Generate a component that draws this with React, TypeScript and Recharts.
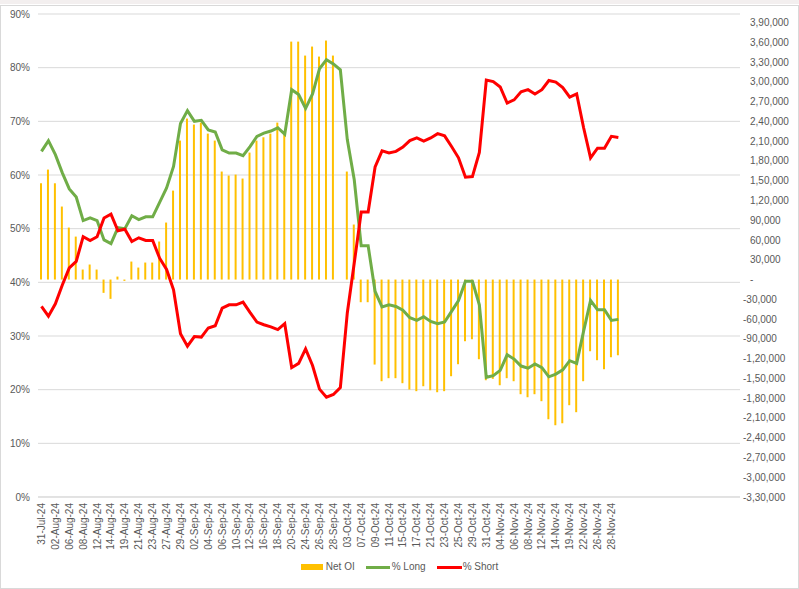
import React from 'react';
import { ComposedChart, Bar, Line, XAxis, YAxis, CartesianGrid, Legend } from 'recharts';

// trading days shown on the category axis (Excel shows every other one)
const dates: string[] = [
  '31-Jul-24',
  '01-Aug-24', '02-Aug-24', '05-Aug-24', '06-Aug-24', '07-Aug-24', '08-Aug-24', '09-Aug-24',
  '12-Aug-24', '13-Aug-24', '14-Aug-24', '16-Aug-24', '19-Aug-24', '20-Aug-24', '21-Aug-24',
  '22-Aug-24', '23-Aug-24', '26-Aug-24', '27-Aug-24', '28-Aug-24', '29-Aug-24', '30-Aug-24',
  '02-Sep-24', '03-Sep-24', '04-Sep-24', '05-Sep-24', '06-Sep-24', '09-Sep-24', '10-Sep-24',
  '11-Sep-24', '12-Sep-24', '13-Sep-24', '16-Sep-24', '17-Sep-24', '18-Sep-24', '19-Sep-24',
  '20-Sep-24', '23-Sep-24', '24-Sep-24', '25-Sep-24', '26-Sep-24', '27-Sep-24', '28-Sep-24',
  '30-Sep-24',
  '03-Oct-24', '04-Oct-24', '07-Oct-24', '08-Oct-24', '09-Oct-24', '10-Oct-24', '11-Oct-24',
  '14-Oct-24', '15-Oct-24', '16-Oct-24', '17-Oct-24', '18-Oct-24', '21-Oct-24', '22-Oct-24',
  '23-Oct-24', '24-Oct-24', '25-Oct-24', '28-Oct-24', '29-Oct-24', '30-Oct-24', '31-Oct-24',
  '01-Nov-24', '04-Nov-24', '05-Nov-24', '06-Nov-24', '07-Nov-24', '08-Nov-24', '11-Nov-24',
  '12-Nov-24', '13-Nov-24', '14-Nov-24', '18-Nov-24', '19-Nov-24', '21-Nov-24', '22-Nov-24',
  '25-Nov-24', '26-Nov-24', '27-Nov-24', '28-Nov-24', '29-Nov-24',
];

// empty rows left at the end of the source range
const BLANK_ROWS = 17;

const netOI: (number | null)[] = [
  146100, 166900, 146100, 110800, 78900, 65200, 15200, 22800, 15200, -20200,
  -29300, 4500, -2000, 27300, 18200, 25800, 25800, 57700, 86500, 135000,
  210900, 244300, 235200, 238200, 221500, 210900, 163900, 157800, 159300, 153300,
  192700, 210900, 215900, 221500, 238200, 220000, 361100, 361100, 339900, 353600,
  338400, 362700, 339900, null, 163900, 83500, -34400, -34400, -129000, -154300,
  -149700, -149700, -157300, -166900, -169400, -161900, -168000, -171000, -169400, -146700,
  -128500, -93600, -90600, -120900, -152800, -150700, -160400, -149700, -154300, -174000,
  -178600, -174000, -184600, -212000, -221100, -218100, -190700, -201300, -154300, -108800,
  -122400, -136100, -117900, -114900,
];

const longPct: number[] = [
  64.4, 66.4, 63.8, 60.4, 57.4, 55.9, 51.5, 52.0, 51.5, 47.9,
  47.2, 50.2, 50.0, 52.4, 51.7, 52.2, 52.2, 54.9, 57.6, 61.6,
  69.6, 72.0, 70.0, 70.2, 68.4, 68.0, 64.7, 64.1, 64.1, 63.6,
  65.3, 67.2, 67.8, 68.2, 68.8, 67.6, 75.9, 75.0, 72.4, 75.1,
  79.8, 81.5, 80.7, 79.6, 66.6, 59.1, 46.8, 46.8, 38.3, 35.4,
  35.8, 35.5, 34.8, 33.4, 32.9, 33.6, 32.7, 32.3, 32.6, 34.6,
  36.6, 40.2, 40.2, 35.8, 22.3, 22.6, 23.6, 26.5, 25.7, 24.4,
  24.0, 24.8, 24.1, 22.4, 22.9, 23.7, 25.4, 24.9, 30.9, 36.6,
  34.9, 34.9, 32.9, 33.1,
];

const shortPct: number[] = [
  35.5, 33.7, 36.0, 39.5, 42.7, 43.9, 48.5, 47.8, 48.5, 52.0,
  52.7, 49.6, 49.9, 47.6, 48.3, 47.8, 47.8, 44.5, 42.4, 38.6,
  30.4, 28.1, 29.9, 29.8, 31.5, 31.9, 35.2, 35.8, 35.8, 36.3,
  34.4, 32.6, 32.1, 31.7, 31.2, 32.3, 24.1, 24.9, 27.6, 24.5,
  20.1, 18.6, 19.1, 20.4, 34.3, 43.6, 53.1, 53.1, 61.5, 64.5,
  64.1, 64.4, 65.2, 66.4, 66.9, 66.3, 66.9, 67.7, 67.3, 65.3,
  63.2, 59.6, 59.7, 64.2, 77.7, 77.4, 76.4, 73.4, 74.0, 75.5,
  75.9, 75.1, 75.9, 77.6, 77.3, 76.3, 74.5, 75.1, 68.8, 63.2,
  65.0, 65.0, 67.2, 67.0,
];

const leftTicks = [0, 10, 20, 30, 40, 50, 60, 70, 80, 90];
const rightTicks = [
  -330000, -300000, -270000, -240000, -210000, -180000, -150000, -120000, -90000, -60000, -30000,
  0, 30000, 60000, 90000, 120000, 150000, 180000, 210000, 240000, 270000, 300000, 330000, 360000, 390000,
];

const GOLD = '#FFC000';
const GREEN = '#70AD47';
const RED = '#FF0000';
const TEXT = '#595959';
const GRID = '#D9D9D9';
const FONT = '"Liberation Sans", Arial, sans-serif';

const data = [
  ...dates.map((d, i) => ({ date: d, netOI: netOI[i], long: longPct[i], short: shortPct[i] })),
  ...Array.from({ length: BLANK_ROWS }, () => ({ date: '', netOI: null, long: null, short: null })),
];

// Indian digit grouping, zero shown as a dash
const fmtIN = (v: number) => {
  if (v === 0) return '-';
  const s = String(Math.abs(v));
  const last3 = s.slice(-3);
  let rest = s.slice(0, -3);
  const parts: string[] = [];
  while (rest.length > 2) {
    parts.unshift(rest.slice(-2));
    rest = rest.slice(0, -2);
  }
  if (rest) parts.unshift(rest);
  const out = parts.length ? parts.join(',') + ',' + last3 : last3;
  return (v < 0 ? '-' : '') + out;
};

const DateTick = (props: any) => {
  const { x, y, payload } = props;
  if (!payload.value) return null;
  return (
    <g transform={`translate(${x},${y})`}>
      <text transform="rotate(-90)" textAnchor="end" dy={3.5} fontSize={10} fontFamily={FONT} fill={TEXT}>
        {payload.value}
      </text>
    </g>
  );
};

const RightTick = (props: any) => {
  const { x, y, payload } = props;
  return (
    <text x={x + (payload.value < 0 ? 0 : 7)} y={y} dy={3.5} textAnchor="start" fontSize={10} fontFamily={FONT} fill={TEXT}>
      {fmtIN(payload.value)}
    </text>
  );
};

const ChartLegend = () => (
  <div
    style={{
      height: 32,
      paddingTop: 4,
      boxSizing: 'border-box',
      display: 'flex',
      justifyContent: 'center',
      alignItems: 'flex-start',
      fontFamily: FONT,
      fontSize: 10,
      color: TEXT,
      lineHeight: '12px',
    }}
  >
    <span style={{ display: 'flex', alignItems: 'center', marginRight: 11 }}>
      <span style={{ width: 22, height: 6, background: GOLD, marginRight: 3 }} />
      Net OI
    </span>
    <span style={{ display: 'flex', alignItems: 'center', marginRight: 11 }}>
      <span style={{ width: 24, height: 3, background: GREEN, marginRight: 2 }} />
      % Long
    </span>
    <span style={{ display: 'flex', alignItems: 'center' }}>
      <span style={{ width: 25, height: 3, background: RED, marginRight: 1 }} />
      % Short
    </span>
  </div>
);

export default function App() {
  return (
    <div style={{ position: 'absolute', left: 0, top: 0, width: 799, height: 589, background: '#fff', overflow: 'hidden' }}>
      <div style={{ position: 'absolute', left: 0, top: 0, width: 799, height: 4, background: '#F3EFEF' }} />
      <div
        style={{
          position: 'absolute',
          left: 0,
          top: 5,
          width: 799,
          height: 584,
          boxSizing: 'border-box',
          border: `1px solid ${GRID}`,
          pointerEvents: 'none',
        }}
      />
      <ComposedChart width={799} height={589} data={data} margin={{ top: 14, right: 0, bottom: 0, left: 0 }} barGap={0}>
        <CartesianGrid vertical={false} stroke={GRID} yAxisId="left" />
        <XAxis
          dataKey="date"
          interval={1}
          tick={<DateTick />}
          tickLine={false}
          tickSize={0}
          tickMargin={6}
          axisLine={{ stroke: GRID }}
          height={60}
        />
        <YAxis
          yAxisId="left"
          orientation="left"
          width={38}
          domain={[0, 90]}
          ticks={leftTicks}
          interval={0}
          axisLine={false}
          tickLine={false}
          tickFormatter={(v: number) => `${v}%`}
          tick={{ fontSize: 10, fontFamily: FONT, fill: TEXT }}
        />
        <YAxis
          yAxisId="right"
          orientation="right"
          width={59}
          domain={[-330000, 403000]}
          ticks={rightTicks}
          interval={0}
          allowDataOverflow
          axisLine={false}
          tickLine={false}
          tickSize={0}
          tickMargin={3}
          tick={<RightTick />}
        />
        <Legend verticalAlign="bottom" height={32} content={<ChartLegend />} />
        <Bar yAxisId="right" dataKey="netOI" name="Net OI" fill={GOLD} barSize={2} isAnimationActive={false} />
        <Line
          yAxisId="left"
          dataKey="long"
          name="% Long"
          stroke={GREEN}
          strokeWidth={3}
          dot={false}
          activeDot={false}
          type="linear"
          isAnimationActive={false}
        />
        <Line
          yAxisId="left"
          dataKey="short"
          name="% Short"
          stroke={RED}
          strokeWidth={3}
          dot={false}
          activeDot={false}
          type="linear"
          isAnimationActive={false}
        />
      </ComposedChart>
    </div>
  );
}
